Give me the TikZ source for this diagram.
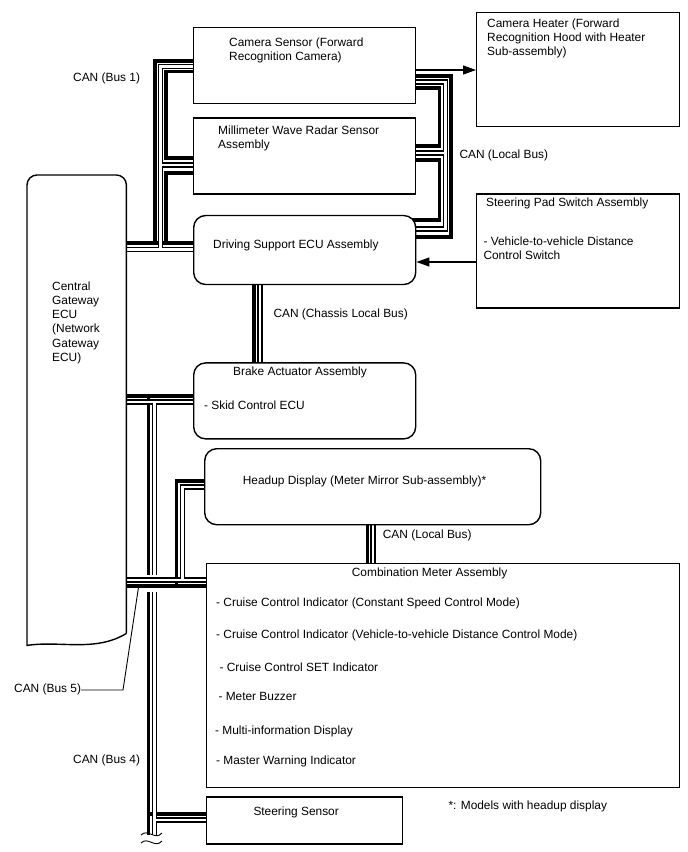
\documentclass[tikz,border=0pt]{standalone}
\usepackage{fontspec}
\setmainfont{Liberation Sans}
\usetikzlibrary{positioning,arrows.meta,backgrounds}

\begin{document}
\begin{tikzpicture}[x=1pt, y=-1pt,
        box/.style={draw, fill=white, line width=1.4pt, inner sep=0pt,
                    minimum width=222pt, minimum height=76pt},
        rbox/.style={box, rounded corners=12pt},
        txt/.style={inner sep=0pt, align=left,
                    font=\fontsize{11.9pt}{14.2pt}\selectfont},
        canH/.style={line width=3.4pt},
        canL/.style={double, line width=1.3pt, double distance=2.6pt},
        arrow/.style={-{Triangle[length=13pt, width=9pt]}, line width=1.2pt},
        leader/.style={line width=0.9pt},
      ]
        \useasboundingbox (0,0) rectangle (688,852);
        % Colonna centrale
        \node[box, anchor=north west] (cam) at (193,27) {};
        \node[box, below=13pt of cam] (mmw) {};
        \node[rbox, minimum height=69pt, below=20pt of mmw] (dse) {};
        \node[rbox, below=77pt of dse] (bra) {};
        % Colonna destra
        \node[box, minimum width=203pt, minimum height=114pt, anchor=north west]
          (hea) at (476,12) {};
        \node[box, minimum width=203pt, minimum height=114pt, below=66pt of hea]
          (spd) {};
        % Parte bassa
        \node[rbox, minimum width=336pt, anchor=north west] (hud) at (204,448) {};
        \node[box, minimum width=473pt, minimum height=224pt, anchor=north west]
          (cmb) at (206,563) {};
        \node[box, minimum width=196pt, minimum height=47pt,
              below right=8pt and 0pt of cmb.south west] (sts) {};
        % Gateway: fondo bianco, contorno disegnato a mano
        \node[fill=white, inner sep=0pt, minimum width=99pt, minimum height=470pt,
              anchor=north west] (cgw) at (27,175) {};
        \draw[line width=1.4pt] ([yshift=12pt]cgw.south east)
          [rounded corners=10pt] -- (cgw.north east) -- (cgw.north west)
          [sharp corners] -- (cgw.south west)
          .. controls +(33,-5) and +(-31,19) .. ([yshift=12pt]cgw.south east);

        % Testi
        \node[txt, below right=106.5pt and 25pt of cgw.north west] (cgwT)
          {Central\\Gateway\\ECU\\(Network\\Gateway\\ECU)};
        \node[txt, below right=10.5pt and 36pt of cam.north west] (camT)
          {Camera Sensor (Forward\\Recognition Camera)};
        \node[txt, below right=8.2pt and 25pt of mmw.north west] (mmwT)
          {Millimeter Wave Radar Sensor\\Assembly};
        \node[txt, below right=25.2pt and 20pt of dse.north west] (dseT)
          {Driving Support ECU Assembly};
        \node[txt, below right=6.2pt and 11pt of hea.north west] (heaT)
          {Camera Heater (Forward\\Recognition Hood with Heater\\Sub-assembly)};
        \node[txt, below right=3.8pt and 10pt of spd.north west] (spdT)
          {Steering Pad Switch Assembly};
        \node[txt, below right=43.5pt and 7.3pt of spd.north west] (spdI)
          {- Vehicle-to-vehicle Distance\\Control Switch};
        \node[txt, below right=4.5pt and 40pt of bra.north west] (braT)
          {Brake Actuator Assembly};
        \node[txt, below right=38.5pt and 11pt of bra.north west] (braI)
          {- Skid Control ECU};
        \node[txt, below right=27.5pt and 38.7pt of hud.north west] (hudT)
          {Headup Display (Meter Mirror Sub-assembly)*};
        \node[txt, below right=4.2pt and 145.7pt of cmb.north west] (cmbT)
          {Combination Meter Assembly};
        \node[txt, below right=34.2pt and 10pt of cmb.north west] (cmb1)
          {- Cruise Control Indicator (Constant Speed Control Mode)};
        \node[txt, below right=66.5pt and 10pt of cmb.north west] (cmb2)
          {- Cruise Control Indicator (Vehicle-to-vehicle Distance Control Mode)};
        \node[txt, below right=99.2pt and 13.3pt of cmb.north west] (cmb3)
          {- Cruise Control SET Indicator};
        \node[txt, below right=129.2pt and 12.3pt of cmb.north west] (cmb4)
          {- Meter Buzzer};
        \node[txt, below right=162.5pt and 9pt of cmb.north west] (cmb5)
          {- Multi-information Display};
        \node[txt, below right=192.5pt and 10pt of cmb.north west] (cmb6)
          {- Master Warning Indicator};
        \node[txt, below right=10.5pt and 47.3pt of sts.north west] (stsT)
          {Steering Sensor};
        \node[txt, anchor=base west] (note) at (448.3,809.3)
          {*: Models with headup display};

        % Etichette dei bus
        \node[txt, anchor=base west] (can1) at (73,81) {CAN (Bus 1)};
        \node[txt, anchor=base west] (canLoc) at (459.3,158.3) {CAN (Local Bus)};
        \node[txt, anchor=base west] (canChs) at (273.3,317.7)
          {CAN (Chassis Local Bus)};
        \node[txt, anchor=base west] (canLoc2) at (382.7,538.3) {CAN (Local Bus)};
        \node[txt, anchor=base west] (can5) at (14,692) {CAN (Bus 5)};
        \node[txt, anchor=base west] (can4) at (73,763.3) {CAN (Bus 4)};

        % Bus CAN sotto i riquadri
        \begin{pgfonlayer}{background}
          % Bus 1
          \draw[canH] (cgw.center |- 0,243) -- (dse.center |- 0,243)
            (155,243) |- (cam.center |- 0,61);
          \draw[canH] (cam.center |- 0,71.5) -| (166,158) -- (mmw.center |- 0,158);
          \draw[canH] (mmw.center |- 0,173) -| (166,243);
          \draw[canL] (cgw.center |- 0,249.5) -- (dse.center |- 0,249.5)
            (160.5,249.5) |- (cam.center |- 0,66.5)
            (160.5,165) -- (mmw.center |- 0,165);
          % Local bus a destra
          \draw[canH] (cam.center |- 0,76) -| (451,237) -- (dse.center |- 0,237);
          \draw[canH] (cam.center |- 0,88) -| (439.5,146) -- (mmw.center |- 0,146);
          \draw[canH] (mmw.center |- 0,160) -| (439.5,220) -- (dse.center |- 0,220);
          \draw[canL] (cam.center |- 0,82) -| (445.5,229) -- (dse.center |- 0,229)
            (445.5,153) -- (mmw.center |- 0,153);
          % Chassis local bus
          \draw[canH] (dse.center -| 254,0) -- (bra.center -| 254,0);
          \draw[canL] (dse.center -| 260,0) -- (bra.center -| 260,0);
          % Local bus headup - meter
          \draw[canH] (hud.center -| 367.5,0) -- (cmb.center -| 367.5,0);
          \draw[canL] (hud.center -| 373,0) -- (cmb.center -| 373,0);
          % Bus 4
          \draw[canH] (cgw.center |- 0,396) -- (bra.center |- 0,396)
            (148.5,396) -- (148.5,575)
            (148.5,592) -- (148.5,835)
            (148.5,814) -- (sts.center |- 0,814);
          \draw[canL] (cgw.center |- 0,402) -- (bra.center |- 0,402)
            (154.5,402) -- (154.5,575)
            (154.5,592) -- (154.5,835)
            (154.5,820) -- (sts.center |- 0,820);
          % Bus 5
          \draw[canH] (cgw.center |- 0,586) -- (cmb.center |- 0,586)
            (176.5,586) |- (hud.center |- 0,481);
          \draw[canL] (cgw.center |- 0,580) -- (cmb.center |- 0,580)
            (182.5,580) |- (hud.center |- 0,487);
        \end{pgfonlayer}

        % Interruzione del bus 4
        \coordinate (b4e) at (151.5,835);
        \draw[leader] (141,835) .. controls (148,828) and (155,841) .. (162,833);
        \draw[leader] (141,843) .. controls (148,836) and (155,849) .. (162,841);
        % Richiamo del bus 5
        \coordinate (b5k) at (123,690);
        \coordinate (b5p) at (139,584);
        \draw[leader] (can5.east |- b5k) -- (b5k) -- (b5p);

        % Frecce
        \draw[arrow] (cam.east |- 0,70) -- (hea.west |- 0,70);
        \draw[arrow] (spd.west |- 0,262) -- (dse.east |- 0,262);
      \end{tikzpicture}
\end{document}
